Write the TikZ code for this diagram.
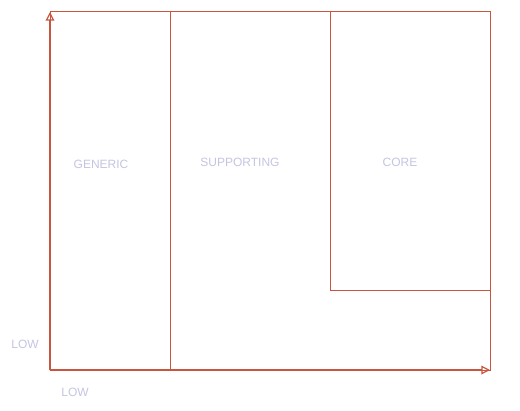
\documentclass[tikz,border=0pt]{standalone}
\usepackage{fontspec}
\setmainfont{Liberation Sans}
\usetikzlibrary{arrows.meta}
\definecolor{edge}{HTML}{C8553D}
\definecolor{lab}{HTML}{C4C4E2}
\begin{document}
\begin{tikzpicture}[x=0.75pt,y=-0.75pt,
  zone/.style={draw=edge,line width=0.9pt,inner sep=0pt,anchor=north west},
  axis/.style={draw=edge,line width=0.9pt,-{Triangle[open,length=6.5pt,width=6.5pt]}},
  lbl/.style={text=lab,font=\fontsize{9pt}{10pt}\selectfont}]
\useasboundingbox (0,0) rectangle (520,410);
\coordinate (origin) at (50,370);
\coordinate (ytop) at (50,12);
\coordinate (xend) at (490,370);
\node[zone,minimum width=330pt,minimum height=269.25pt] (frame) at (50,11) {};
\node[zone,minimum width=90pt,minimum height=269.25pt] (generic) at (50,11) {};
\node[zone,minimum width=120pt,minimum height=209.25pt] (core) at (330,11) {};
\draw[axis] (origin) -- (ytop);
\draw[axis] (origin) -- (xend);
\node[lbl] (tgeneric) at (101,164) {GENERIC};
\node[lbl] (tsupporting) at (240,162) {SUPPORTING};
\node[lbl] (tcore) at (400,162) {CORE};
\node[lbl] (lowy) at (25,344) {LOW};
\node[lbl] (lowx) at (75,392) {LOW};
\end{tikzpicture}
\end{document}
